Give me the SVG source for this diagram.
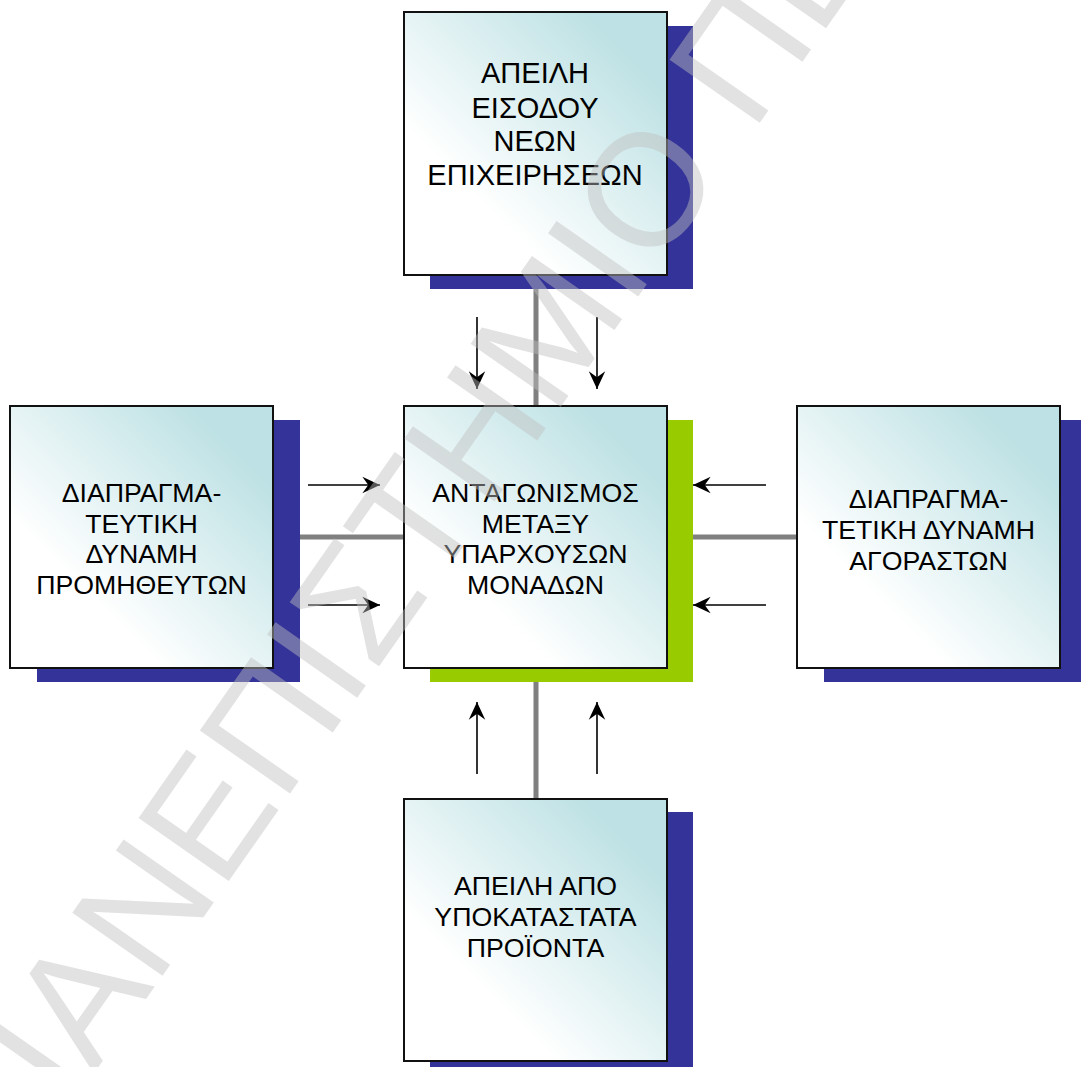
<svg xmlns="http://www.w3.org/2000/svg" width="1081" height="1067" viewBox="0 0 1081 1067">
<style>
.box{stroke:#111111;stroke-width:2;fill:url(#g)}
.sh{fill:#333399}
.shg{fill:#99cc00}
.lbl{font-family:"Liberation Sans",Arial,sans-serif;font-size:26.7px;fill:#000000;text-anchor:middle}
.big{font-size:29px}
.link{stroke:#808080;stroke-width:5;fill:none}
.arr{stroke:#000000;stroke-width:1.6;fill:none;marker-end:url(#ah)}
.wm{font-family:"Liberation Sans",Arial,sans-serif;font-size:160px;fill:#bfbfbf;fill-opacity:0.45}
</style>
<defs>
<linearGradient id="g" x1="0.95" y1="0.05" x2="0.1" y2="0.9">
<stop offset="0" stop-color="#bde1e4"/>
<stop offset="0.12" stop-color="#bde1e4"/>
<stop offset="0.78" stop-color="#ffffff"/>
<stop offset="1" stop-color="#ffffff"/>
</linearGradient>
<marker id="ah" markerUnits="userSpaceOnUse" markerWidth="20" markerHeight="20" viewBox="-16 -8 17 16" refX="0" refY="0" orient="auto">
<path d="M0,0 L-15,-7 L-10,0 L-15,7 Z" fill="#000000"/>
</marker>
</defs>
<rect width="1081" height="1067" fill="#ffffff"/>
<g id="connectors">
<line class="link" x1="536" y1="275" x2="536" y2="406"/>
<line class="link" x1="536" y1="668" x2="536" y2="799"/>
<line class="link" x1="273" y1="537" x2="404" y2="537"/>
<line class="link" x1="666" y1="537" x2="797" y2="537"/>
<line class="arr" x1="477" y1="317" x2="477" y2="389"/>
<line class="arr" x1="597" y1="317" x2="597" y2="389"/>
<line class="arr" x1="477" y1="774" x2="477" y2="702"/>
<line class="arr" x1="597" y1="774" x2="597" y2="702"/>
<line class="arr" x1="308" y1="485" x2="380" y2="485"/>
<line class="arr" x1="308" y1="605" x2="380" y2="605"/>
<line class="arr" x1="766" y1="485" x2="693" y2="485"/>
<line class="arr" x1="766" y1="605" x2="693" y2="605"/>
</g>
<g id="node-top">
<rect class="sh" x="430" y="26" width="263" height="263"/>
<rect class="box" x="404" y="12" width="263" height="263"/>
<text class="lbl big" x="535" y="83.3">ΑΠΕΙΛΗ</text>
<text class="lbl big" x="535" y="117.6">ΕΙΣΟΔΟΥ</text>
<text class="lbl big" x="535" y="151.2">ΝΕΩΝ</text>
<text class="lbl big" x="535" y="185.2">ΕΠΙΧΕΙΡΗΣΕΩΝ</text>
</g>
<g id="node-center">
<rect class="shg" x="430" y="420" width="263" height="262"/>
<rect class="box" x="404" y="406" width="263" height="262"/>
<text class="lbl" x="535.5" y="502">ΑΝΤΑΓΩΝΙΣΜΟΣ</text>
<text class="lbl" x="535.5" y="532.5">ΜΕΤΑΞΥ</text>
<text class="lbl" x="535.5" y="563">ΥΠΑΡΧΟΥΣΩΝ</text>
<text class="lbl" x="535.5" y="593.5">ΜΟΝΑΔΩΝ</text>
</g>
<g id="node-left">
<rect class="sh" x="37" y="420" width="263" height="262"/>
<rect class="box" x="10" y="406" width="263" height="262"/>
<text class="lbl" x="141.5" y="502">ΔΙΑΠΡΑΓΜΑ-</text>
<text class="lbl" x="141.5" y="532.5">ΤΕΥΤΙΚΗ</text>
<text class="lbl" x="141.5" y="563">ΔΥΝΑΜΗ</text>
<text class="lbl" x="141.5" y="593.5">ΠΡΟΜΗΘΕΥΤΩΝ</text>
</g>
<g id="node-right">
<rect class="sh" x="824" y="420" width="263" height="262"/>
<rect class="box" x="797" y="406" width="263" height="262"/>
<text class="lbl" x="928.5" y="508">ΔΙΑΠΡΑΓΜΑ-</text>
<text class="lbl" x="928.5" y="539">ΤΕΤΙΚΗ ΔΥΝΑΜΗ</text>
<text class="lbl" x="928.5" y="570">ΑΓΟΡΑΣΤΩΝ</text>
</g>
<g id="node-bottom">
<rect class="sh" x="430" y="812" width="263" height="263"/>
<rect class="box" x="404" y="799" width="263" height="262"/>
<text class="lbl" x="535.5" y="895">ΑΠΕΙΛΗ ΑΠΟ</text>
<text class="lbl" x="535.5" y="925.5">ΥΠΟΚΑΤΑΣΤΑΤΑ</text>
<text class="lbl" x="535.5" y="956.5">ΠΡΟΪΟΝΤΑ</text>
</g>
<g id="watermark">
<text class="wm" transform="translate(27.5,1168.5) rotate(-55)" x="0" y="0">ΠΑΝΕΠΙΣΤΗΜΙΟ ΠΕ</text>
</g>
</svg>
